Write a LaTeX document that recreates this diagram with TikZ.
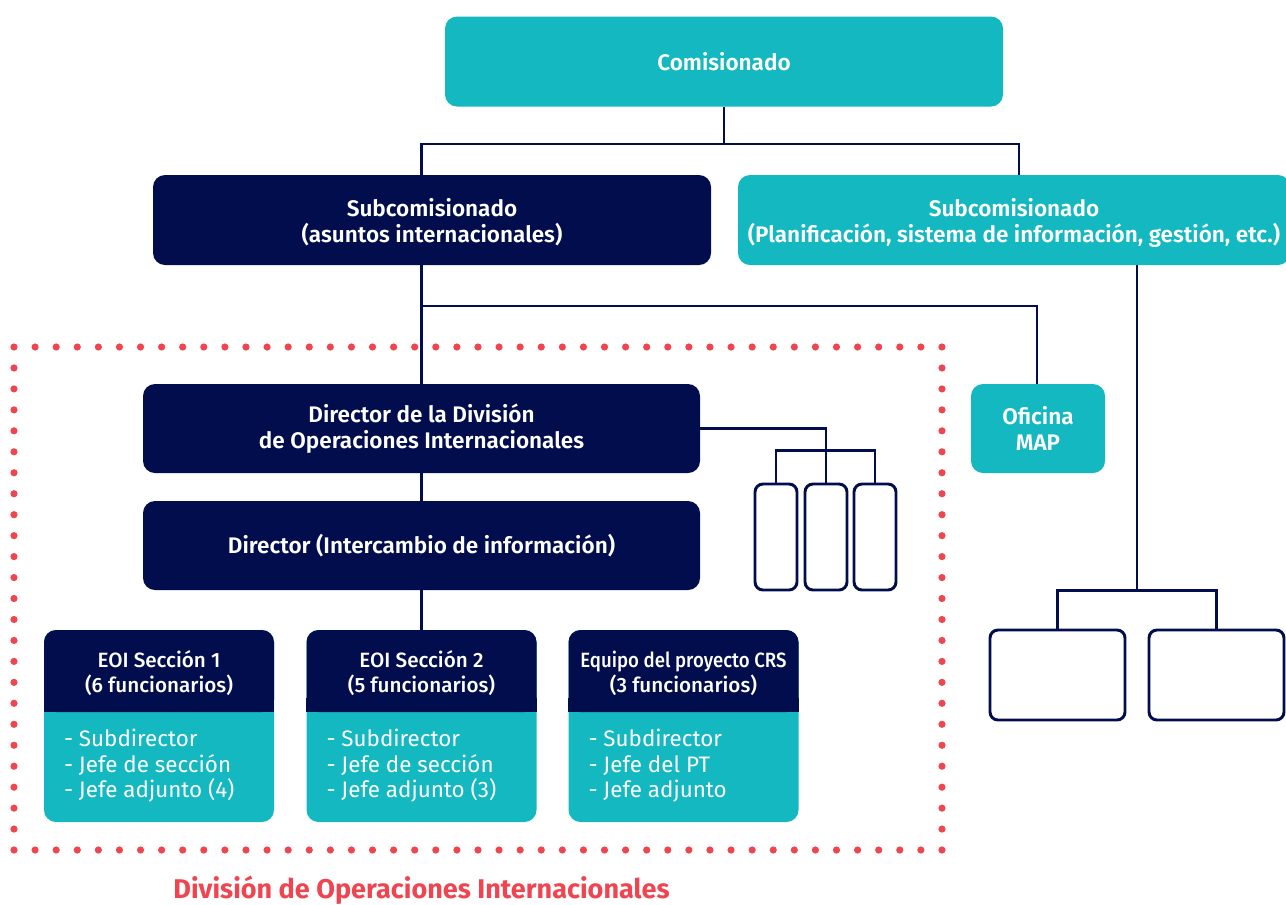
\documentclass[tikz,border=0pt]{standalone}
\usepackage{fontspec}
\setmainfont{Fira Sans}
\newfontfamily\medfont{Fira Sans Medium}
\newfontfamily\semifont{Fira Sans SemiBold}
\usetikzlibrary{calc}
\definecolor{navy}{HTML}{020D4E}
\definecolor{tealc}{HTML}{13B8C1}
\definecolor{dotred}{HTML}{EE4550}
\begin{document}
\begin{tikzpicture}[x=0.75pt,y=-0.75pt,
  wh/.style 2 args={minimum width=#1*0.75pt, minimum height=#2*0.75pt},
  boxtext/.style={inner sep=0pt, align=center, text=white,
    font=\fontsize{16.9}{19.5}\selectfont\semifont},
  box/.style={boxtext, rounded corners=9pt},
  navybox/.style={box, fill=navy},
  tealbox/.style={box, fill=tealc},
  headbox/.style={navybox, font=\fontsize{15.5}{19}\selectfont\medfont},
  emptybox/.style={draw=navy, fill=white, line width=2.2pt, rounded corners=6pt, inner sep=0pt},
  conn/.style={draw=navy, line width=1.8pt},
  body/.style={anchor=west, align=left, text=white, inner sep=0pt,
    font=\fontsize{16.8}{19.1}\selectfont},
  dot/.style={fill=dotred}
]
\useasboundingbox (0,0) rectangle (1286,904);

% top levels
\node[tealbox, wh={558}{90}] (com) at (724,61.5) {Comisionado};
\node[navybox, wh={558}{90}] (sub1) at (432,220) {};
\node[boxtext] (sub1t) at ($(sub1.center)+(0,2.5)$) {Subcomisionado\\(asuntos internacionales)};
\node[tealbox, wh={552}{90}] (sub2) at (1014,220) {};
\node[boxtext] (sub2t) at ($(sub2.center)+(0,2.5)$) {Subcomisionado\\(Planificación, sistema de información, gestión, etc.)};
\node[tealbox, wh={134}{89}] (map) at (1038,428.5) {Oficina\\MAP};

% division
\node[navybox, wh={557}{89}] (dir1) at (421.5,428.5) {Director de la División\\de Operaciones Internacionales};
\node[navybox, wh={557}{89}] (dir2) at (421.5,545.5) {Director (Intercambio de información)};

% empty units
\node[emptybox, wh={42}{106}] (e1) at (776,537) {};
\node[emptybox, wh={42}{106}] (e2) at (826,537) {};
\node[emptybox, wh={42}{106}] (e3) at (875,537) {};
\node[emptybox, wh={135}{90}] (r1) at (1057.5,675) {};
\node[emptybox, wh={135}{90}] (r2) at (1216.5,675) {};

% sections: teal body with navy header
\foreach \n/\cx/\head/\la/\lb/\lc in {
  s1/159/{EOI Sección 1\\(6 funcionarios)}/Subdirector/Jefe de sección/Jefe adjunto (4),
  s2/421.5/{EOI Sección 2\\(5 funcionarios)}/Subdirector/Jefe de sección/Jefe adjunto (3),
  s3/683.5/{\scalebox{0.9}[1]{Equipo del proyecto CRS}\\(3 funcionarios)}/Subdirector/Jefe del PT/Jefe adjunto}{
  \node[tealbox, wh={230}{192}] (\n) at (\cx,726) {};
  \node[headbox, wh={230}{82}] (\n h) at (\cx,671) {};
  \node[text=white, align=center, inner sep=0pt, font=\fontsize{15.5}{19}\selectfont\medfont]
    at ($(\n h.center)+(0,2)$) {\head};
  \fill[navy] ($(\n h.south west)+(0,-14)$) rectangle (\n h.south east);
  \node[body] (\n b) at ($(\n.west)+(20,40)$) {- \la\\- \lb\\- \lc};
}

% connectors
\draw[conn] (com.south) -- ++(0,37) coordinate (j1);
\draw[conn] (sub1.north -| dir1.north) |- (j1) -| ($(sub2.north)+(5,0)$);
\draw[conn] (sub1.south -| dir1.north) -- (dir1.north);
\draw[conn] ($(sub1.south -| dir1.north)+(0,41)$) -| ($(map.north)+(-1,0)$);
\draw[conn] (dir1.south) -- (dir2.north);
\draw[conn] (dir1.east) -| (e2.north);
\draw[conn] (e1.north) |- ($(e2.north)+(0,-32)$) -| (e3.north);
\draw[conn] (dir2.south) -- (s2h.north);
\coordinate (rmid) at ($(r1.north)!0.5!(r2.north)+(0,-38)$);
\draw[conn] (rmid |- sub2.south) -- (rmid);
\draw[conn] (r1.north) |- (rmid) -| (r2.north);

% dotted frame of the division
\foreach \i in {0,...,44}{
  \fill[dot] (14+\i*21.09,347) circle (2.7pt);
  \fill[dot] (14+\i*21.09,850) circle (2.7pt);
}
\foreach \j in {1,...,23}{
  \fill[dot] (14,347+\j*20.96) circle (2.7pt);
  \fill[dot] (942,347+\j*20.96) circle (2.7pt);
}
\node[text=dotred, font=\fontsize{20.3}{24}\selectfont\bfseries, inner sep=0pt] (lbl) at (421.5,890)
  {División de Operaciones Internacionales};
\end{tikzpicture}
\end{document}
